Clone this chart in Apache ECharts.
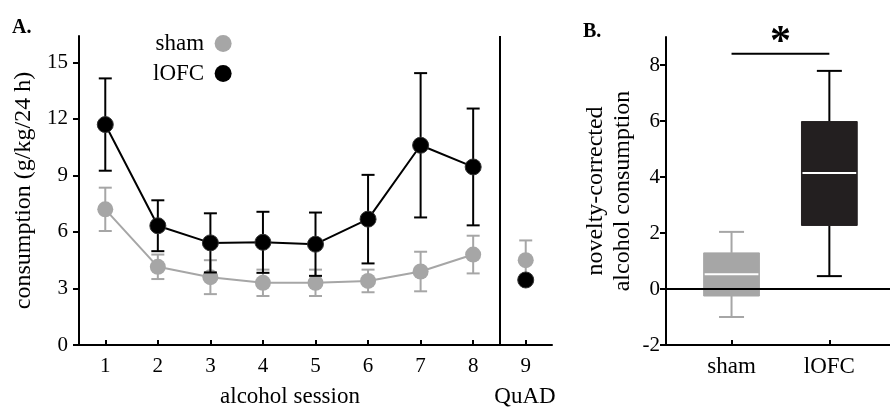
<!DOCTYPE html>
<html>
<head>
<meta charset="utf-8">
<title>alcohol consumption</title>
<script src="https://cdn.jsdelivr.net/npm/echarts@6/dist/echarts.min.js"></script>
<style>
html, body { margin: 0; padding: 0; background: #fff; }
#chart { width: 890px; height: 407px; }
</style>
</head>
<body>
<div id="chart"></div>
<script>
// panel A: mean and sem per alcohol session
var sessions = [1, 2, 3, 4, 5, 6, 7, 8];
var shamMean = [7.2, 4.15, 3.6, 3.3, 3.3, 3.4, 3.9, 4.8];
var shamSem  = [1.15, 0.65, 0.9, 0.7, 0.7, 0.6, 1.05, 1.0];
var lofcMean = [11.7, 6.33, 5.42, 5.45, 5.35, 6.68, 10.6, 9.45];
var lofcSem  = [2.45, 1.35, 1.57, 1.62, 1.68, 2.35, 3.83, 3.1];

// QuAD test (session 9)
var quadSession = 9;
var shamQuad = [4.5, 1.05];   // mean, sem
var lofcQuad = 3.45;          // mean (error bar hidden under the dot)

var xTicksA = [1, 2, 3, 4, 5, 6, 7, 8, 9];
var yTicksA = [0, 3, 6, 9, 12, 15];

// panel B: box stats [min, q1, median, q3, max]
var groups = ['sham', 'lOFC'];
var shamBox = [-1.0, -0.25, 0.53, 1.29, 2.04];
var lofcBox = [0.46, 2.27, 4.14, 5.98, 7.79];
var yTicksB = [-2, 0, 2, 4, 6, 8];
var sigLevel = 8.4;

var GREY = '#a6a6a6';
var DARK = '#231f20';
var FONT = 'Liberation Serif';

function pairs(xs, ys, es) {
  return xs.map(function (x, i) { return es ? [x, ys[i], es[i]] : [x, ys[i]]; });
}

// vertical error bar with caps
function errorBar(color) {
  return function (params, api) {
    var x = api.value(0), m = api.value(1), e = api.value(2);
    var top = api.coord([x, m + e]);
    var bot = api.coord([x, m - e]);
    var cap = 6.5;
    var st = { stroke: color, lineWidth: 2 };
    return {
      type: 'group',
      children: [
        { type: 'line', shape: { x1: top[0], y1: top[1], x2: bot[0], y2: bot[1] }, style: st },
        { type: 'line', shape: { x1: top[0] - cap, y1: top[1], x2: top[0] + cap, y2: top[1] }, style: st },
        { type: 'line', shape: { x1: bot[0] - cap, y1: bot[1], x2: bot[0] + cap, y2: bot[1] }, style: st }
      ]
    };
  };
}

function boxItem(params, api) {
  var x = api.value(0);
  var lo = api.coord([x, api.value(1)]);
  var q1 = api.coord([x, api.value(2)]);
  var md = api.coord([x, api.value(3)]);
  var q3 = api.coord([x, api.value(4)]);
  var hi = api.coord([x, api.value(5)]);
  var half = api.size([0.57, 0])[0] / 2;
  var cap = 12.5;
  var fill = params.dataIndex === 0 ? GREY : DARK;
  var wc = params.dataIndex === 0 ? GREY : '#000';
  var st = { stroke: wc, lineWidth: 2 };
  var cx = lo[0];
  return {
    type: 'group',
    children: [
      { type: 'line', shape: { x1: cx, y1: hi[1], x2: cx, y2: q3[1] }, style: st },
      { type: 'line', shape: { x1: cx, y1: q1[1], x2: cx, y2: lo[1] }, style: st },
      { type: 'line', shape: { x1: cx - cap, y1: hi[1], x2: cx + cap, y2: hi[1] }, style: st },
      { type: 'line', shape: { x1: cx - cap, y1: lo[1], x2: cx + cap, y2: lo[1] }, style: st },
      { type: 'rect', shape: { x: cx - half, y: q3[1], width: half * 2, height: q1[1] - q3[1] },
        style: { fill: fill, stroke: fill, lineWidth: 1 } },
      { type: 'line', shape: { x1: cx - half + 1, y1: md[1], x2: cx + half - 1, y2: md[1] },
        style: { stroke: '#fff', lineWidth: 2 } }
    ]
  };
}

function sigItem(params, api) {
  var a = api.coord([api.value(0), api.value(1)]);
  var b = api.coord([api.value(2), api.value(1)]);
  return {
    type: 'group',
    children: [
      { type: 'line', shape: { x1: a[0], y1: a[1], x2: b[0], y2: b[1] }, style: { stroke: '#000', lineWidth: 2 } },
      { type: 'text', x: (a[0] + b[0]) / 2, y: a[1] + 10,
        style: { text: '*', fill: '#000', font: 'bold 42px ' + FONT, align: 'center', verticalAlign: 'bottom' } }
    ]
  };
}

var axisLine = { show: true, onZero: false, lineStyle: { color: '#000', width: 2 } };
var tickLabel = { color: '#000', fontSize: 21, fontFamily: FONT };

var option = {
  animation: false,
  backgroundColor: '#fff',
  legend: {
    orient: 'vertical',
    left: 153,
    top: 32,
    align: 'right',
    icon: 'circle',
    itemWidth: 28,
    itemHeight: 17,
    itemGap: 7,
    padding: 0,
    itemStyle: { borderWidth: 0 },
    textStyle: { fontSize: 23, fontFamily: FONT, color: '#000' },
    data: ['sham', 'lOFC']
  },
  grid: [
    { left: 79, top: 36, width: 473, height: 309 },
    { left: 666, top: 37, width: 224, height: 308 }
  ],
  xAxis: [
    {
      gridIndex: 0, type: 'value', min: 0.5, max: 9.5,
      axisLine: axisLine,
      axisTick: { inside: true, length: 5, customValues: xTicksA, lineStyle: { color: '#000', width: 2 } },
      axisLabel: Object.assign({ customValues: xTicksA, margin: 11 }, tickLabel),
      splitLine: { show: false }
    },
    {
      gridIndex: 1, type: 'value', min: 0.33, max: 2.62,
      axisLine: axisLine,
      axisTick: { inside: true, length: 5, customValues: [1, 2], lineStyle: { color: '#000', width: 2 } },
      axisLabel: { customValues: [1, 2], margin: 10, fontSize: 23, color: '#000', fontFamily: FONT,
        formatter: function (v) { return groups[Math.round(v) - 1]; } },
      splitLine: { show: false }
    }
  ],
  yAxis: [
    {
      gridIndex: 0, type: 'value', min: 0, max: 16.4,
      name: 'consumption (g/kg/24 h)', nameLocation: 'middle', nameGap: 41,
      nameTextStyle: { fontSize: 24, fontFamily: FONT, color: '#000' },
      axisLine: axisLine,
      axisTick: { length: 6, customValues: yTicksA, lineStyle: { color: '#000', width: 2 } },
      axisLabel: Object.assign({ customValues: yTicksA, margin: 11 }, tickLabel),
      splitLine: { show: false }
    },
    {
      gridIndex: 1, type: 'value', min: -2, max: 9,
      name: 'novelty-corrected\nalcohol consumption', nameLocation: 'middle', nameGap: 30,
      nameTextStyle: { fontSize: 24, lineHeight: 27, fontFamily: FONT, color: '#000' },
      axisLine: axisLine,
      axisTick: { length: 6, customValues: yTicksB, lineStyle: { color: '#000', width: 2 } },
      axisLabel: Object.assign({ customValues: yTicksB, margin: 6 }, tickLabel),
      splitLine: { show: false }
    }
  ],
  graphic: [
    { type: 'text', x: 12, y: 18, style: { text: 'A.', font: 'bold 20px ' + FONT, fill: '#000' } },
    { type: 'text', x: 583, y: 22, style: { text: 'B.', font: 'bold 20px ' + FONT, fill: '#000' } },
    { type: 'text', x: 290, y: 397, style: { text: 'alcohol session', font: '23px ' + FONT, fill: '#000', align: 'center', verticalAlign: 'middle' } },
    { type: 'text', x: 525, y: 397, style: { text: 'QuAD', font: '23px ' + FONT, fill: '#000', align: 'center', verticalAlign: 'middle' } }
  ],
  series: [
    {
      type: 'custom', xAxisIndex: 0, yAxisIndex: 0, z: 1,
      renderItem: errorBar(GREY), encode: { x: 0, y: 1 },
      data: pairs(sessions, shamMean, shamSem).concat([[quadSession, shamQuad[0], shamQuad[1]]])
    },
    {
      name: 'sham', type: 'line', xAxisIndex: 0, yAxisIndex: 0, z: 2,
      symbol: 'circle', symbolSize: 16,
      itemStyle: { color: GREY },
      lineStyle: { color: GREY, width: 2 },
      data: pairs(sessions, shamMean)
    },
    {
      name: 'sham', type: 'scatter', xAxisIndex: 0, yAxisIndex: 0, z: 2,
      symbol: 'circle', symbolSize: 16, itemStyle: { color: GREY, opacity: 1 },
      data: [[quadSession, shamQuad[0]]]
    },
    {
      type: 'custom', xAxisIndex: 0, yAxisIndex: 0, z: 3,
      renderItem: errorBar('#000'), encode: { x: 0, y: 1 },
      data: pairs(sessions, lofcMean, lofcSem)
    },
    {
      name: 'lOFC', type: 'line', xAxisIndex: 0, yAxisIndex: 0, z: 4,
      symbol: 'circle', symbolSize: 16,
      itemStyle: { color: '#000', borderColor: '#333', borderWidth: 1 },
      lineStyle: { color: '#000', width: 2 },
      data: pairs(sessions, lofcMean)
    },
    {
      name: 'lOFC', type: 'scatter', xAxisIndex: 0, yAxisIndex: 0, z: 4,
      symbol: 'circle', symbolSize: 16,
      itemStyle: { color: '#000', borderColor: '#333', borderWidth: 1, opacity: 1 },
      data: [[quadSession, lofcQuad]],
      markLine: {
        silent: true, symbol: 'none', label: { show: false },
        lineStyle: { color: '#000', width: 2, type: 'solid' },
        data: [{ xAxis: 8.5 }]
      }
    },
    {
      type: 'custom', xAxisIndex: 1, yAxisIndex: 1, z: 2,
      renderItem: boxItem, encode: { x: 0, y: [1, 5] },
      data: [[1].concat(shamBox), [2].concat(lofcBox)],
      markLine: {
        silent: true, symbol: 'none', label: { show: false },
        lineStyle: { color: '#000', width: 2, type: 'solid' },
        data: [{ yAxis: 0 }]
      }
    },
    {
      type: 'custom', xAxisIndex: 1, yAxisIndex: 1, z: 3,
      renderItem: sigItem, encode: { x: [0, 2], y: 1 },
      data: [[1, sigLevel, 2]]
    }
  ]
};

var chart = echarts.init(document.getElementById('chart'));
chart.setOption(option);
</script>
</body>
</html>
